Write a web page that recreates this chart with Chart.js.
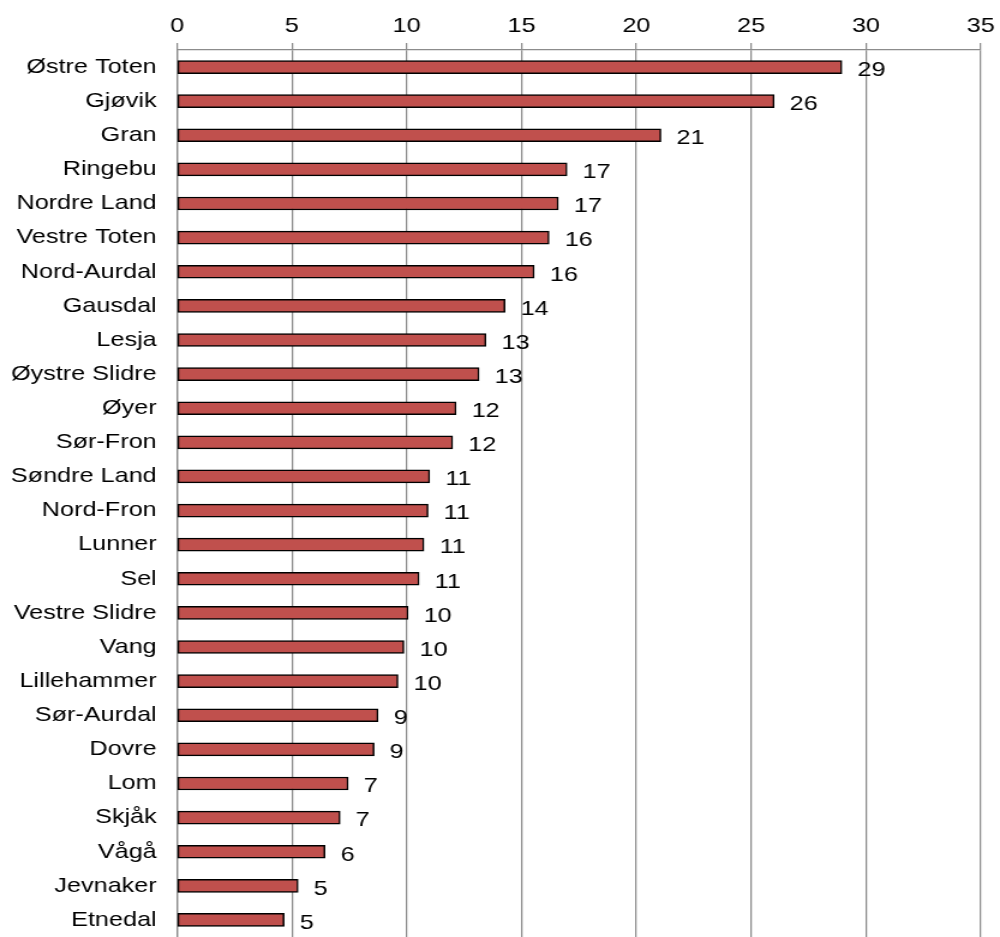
<!DOCTYPE html>
<html>
<head>
<meta charset="utf-8">
<script src="https://cdn.jsdelivr.net/npm/chart.js@4.4.1/dist/chart.umd.min.js"></script>
<style>
  html, body { margin: 0; padding: 0; background: #fff; overflow: hidden; }
  /* the original picture is stretched sideways, so the chart is drawn narrow and widened */
  #wrap { width: 833px; height: 937px; transform: scaleX(1.20048); transform-origin: 0 0; }
</style>
</head>
<body>
<div id="wrap"><canvas id="kommuneChart"></canvas></div>
<script>
var kommuner = ['Østre Toten', 'Gjøvik', 'Gran', 'Ringebu', 'Nordre Land', 'Vestre Toten',
    'Nord-Aurdal', 'Gausdal', 'Lesja', 'Øystre Slidre', 'Øyer', 'Sør-Fron', 'Søndre Land',
    'Nord-Fron', 'Lunner', 'Sel', 'Vestre Slidre', 'Vang', 'Lillehammer', 'Sør-Aurdal',
    'Dovre', 'Lom', 'Skjåk', 'Vågå', 'Jevnaker', 'Etnedal'];
var verdier = [28.95, 26.0, 21.07, 16.98, 16.6, 16.2, 15.55, 14.28, 13.45, 13.15, 12.15, 12.0,
    11.0, 10.93, 10.75, 10.54, 10.06, 9.88, 9.62, 8.75, 8.58, 7.45, 7.1, 6.44, 5.27, 4.66];
var xTicks = [0, 5, 10, 15, 20, 25, 30, 35];

var fontFam = '"Liberation Sans", Arial, sans-serif';

// values printed to the right of each bar
var valueLabels = {
    id: 'valueLabels',
    afterDatasetsDraw: function (chart) {
        var ctx = chart.ctx;
        var meta = chart.getDatasetMeta(0);
        ctx.save();
        ctx.font = '21px ' + fontFam;
        ctx.fillStyle = '#000';
        ctx.textAlign = 'left';
        ctx.textBaseline = 'middle';
        meta.data.forEach(function (bar, i) {
            ctx.fillText(Math.round(verdier[i]), bar.x + 13, bar.y + 3);
        });
        ctx.restore();
    }
};

var ctx = document.getElementById('kommuneChart').getContext('2d');
new Chart(ctx, {
    type: 'bar',
    data: {
        labels: kommuner,
        datasets: [{
            data: verdier,
            backgroundColor: '#c0504d',
            borderColor: '#000',
            borderWidth: 1.5,
            borderSkipped: false,
            barThickness: 13
        }]
    },
    options: {
        indexAxis: 'y',
        responsive: true,
        maintainAspectRatio: false,
        animation: false,
        layout: { padding: { left: 0, right: 16, top: 0, bottom: 0 } },
        plugins: {
            legend: { display: false },
            tooltip: { enabled: false }
        },
        scales: {
            x: {
                position: 'top',
                min: 0,
                max: 35,
                afterBuildTicks: function (axis) {
                    axis.ticks = xTicks.map(function (v) { return { value: v }; });
                },
                afterFit: function (axis) { axis.height = 50; },
                grid: { color: '#8c8c8c', lineWidth: 1.25, tickLength: 7 },
                border: { display: true, color: '#8c8c8c', width: 1.25 },
                ticks: {
                    color: '#000',
                    font: { family: fontFam, size: 21 },
                    padding: 4,
                    maxRotation: 0
                }
            },
            y: {
                afterFit: function (axis) {
                    axis.width = 147.5;
                    axis.paddingTop = 0;
                    axis.paddingBottom = 0;
                },
                grid: { display: false, drawTicks: false },
                border: { display: true, color: '#8c8c8c', width: 1.25 },
                ticks: {
                    color: '#000',
                    font: { family: fontFam, size: 21 },
                    padding: 17,
                    autoSkip: false
                }
            }
        }
    },
    plugins: [valueLabels]
});
</script>
</body>
</html>
